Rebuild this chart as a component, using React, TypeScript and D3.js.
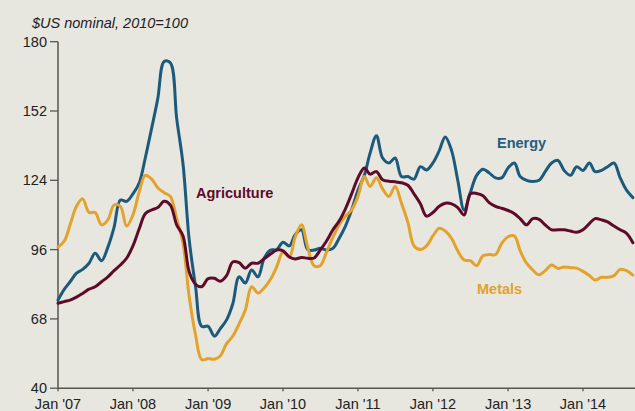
import React from "react";
import * as d3 from "d3";

const START_YEAR = 2007;
const yTicks = [40, 68, 96, 124, 152, 180];
const xTickYears = [2007, 2008, 2009, 2010, 2011, 2012, 2013, 2014];
const xTickLabels = ["Jan '07", "Jan '08", "Jan '09", "Jan '10", "Jan '11", "Jan '12", "Jan '13", "Jan '14"];

// monthly values from Jan 2007
const energy = [
  75.6, 80, 83, 86.5, 88, 90.5, 94.5, 91.5, 97, 105, 116, 115.5,
  118.5, 123, 133, 145, 157, 172, 171.5, 149, 130.5, 100, 81, 65,
  65, 61, 64, 67.6, 74, 85, 82.5, 87.8, 85, 92.5, 95.8, 96,
  99, 97.5, 102, 104, 96, 95.8, 96.5, 95.8, 96.5, 100.5, 105.5, 112,
  120, 126, 135, 142, 133, 131, 133, 125.5, 125.5, 124.5, 129.5, 128.2,
  131, 136, 141.5, 136, 124, 112, 119, 126, 128.5, 127, 125, 125,
  129, 131, 125.5, 124, 123.5, 124, 127.5, 131, 132, 128, 126, 129.5,
  128, 131, 127.5, 128, 129.5, 131, 125, 120, 117,
];
const agriculture = [
  74.3, 75, 75.6, 76.8, 78.3, 80, 81, 83, 85, 87.5, 89.8, 92.5,
  97.5, 104.5, 110.5, 112, 113, 115.5, 114, 106, 101.5, 87, 82, 81,
  84.3, 84.4, 83.2, 85.5, 91, 90.7, 88.5, 90.5, 90.5, 92.3, 94.2, 95.8,
  95.5, 93, 92.2, 92.8, 92.5, 92.6, 95.8, 99.5, 104, 107.5, 112.5, 118.5,
  125, 129, 126.5, 127.5, 124.2, 123.6, 123.4, 123, 122, 118.5, 114.5, 109.5,
  111, 113.5, 114.7, 114.5, 113, 110, 118.5, 118.7, 117.8, 115, 113.5, 112.7,
  111.8, 110.5, 108.5, 106, 108.5, 108.2, 106, 104, 104, 104, 103.5, 103,
  104, 106.5, 108.5, 108, 107.2, 105.5, 104, 102.6, 98.8,
];
const metals = [
  97, 99.5, 106, 113.5, 116.5, 111, 111, 106, 108, 114, 113.5, 105.5,
  110, 119.5, 126, 124.5, 121, 119, 117.5, 108.5, 98.5, 77, 61.5, 51.5,
  52, 51.7, 53, 58, 61, 66, 71.5, 81, 78.5, 80.5, 84, 89,
  95, 93, 101, 106, 97, 89.5, 89.5, 95, 101, 106, 109.5, 112,
  117.5, 125.5, 121.5, 125, 120.5, 117.5, 121.5, 114.7, 107, 97.5, 96, 97.5,
  101.5, 104.6, 103.5, 100.5, 95.5, 91.8, 91.5, 89.5, 93.5, 94, 94, 98.5,
  101.2, 101.5, 95.5, 90.5, 87.8, 85.8, 87.5, 89.8, 88.4, 89, 88.7, 88.5,
  87.2, 85.5, 83.7, 84.8, 84.8, 85.5, 88, 87.5, 85.7,
];

const seriesNames = ["Energy", "Metals", "Agriculture"];
const seriesColors = ["#1c5a7b", "#e2a22c", "#5e0b2a"];
const seriesData = [energy, metals, agriculture];

export default function App() {
  const W = 635;
  const H = 411;
  const x = d3
    .scaleTime()
    .domain([new Date(2007, 0, 1), new Date(2014, 0, 1)])
    .range([58, 583]);
  const y = d3.scaleLinear().domain([40, 180]).range([388.2, 41.7]);

  const dateOf = (i: number) => new Date(START_YEAR, i, 1);
  const line = d3
    .line<number>()
    .x((_, i) => x(dateOf(i)))
    .y((d) => y(d))
    .curve(d3.curveCatmullRom.alpha(0.5));

  const font = "'Liberation Sans', Arial, sans-serif";
  const axisColor = "#555";
  const fs = 14.5;

  return (
    <div style={{ position: "fixed", left: 0, top: 0, width: W, height: H }}>
      <svg width={W} height={H} style={{ display: "block", background: "#e7e7e0" }}>
        <rect x={0} y={0} width={W} height={H} fill="#e7e7e0" />
        <text x={32} y={28} fontFamily={font} fontSize={fs} fontStyle="italic" fill="#222">
          $US nominal, 2010=100
        </text>
        {/* y axis */}
        <line x1={58} x2={58} y1={y(180)} y2={y(40)} stroke={axisColor} strokeWidth={1.5} />
        {yTicks.map((t) => (
          <g key={t}>
            <line x1={50} x2={58} y1={y(t)} y2={y(t)} stroke={axisColor} strokeWidth={1.3} />
            <text
              x={47}
              y={y(t)}
              dy="0.35em"
              textAnchor="end"
              fontFamily={font}
              fontSize={fs}
              fill="#222"
            >
              {t}
            </text>
          </g>
        ))}
        {/* x axis */}
        <line x1={58} x2={W} y1={y(40)} y2={y(40)} stroke={axisColor} strokeWidth={1.5} />
        {xTickYears.map((yr, i) => (
          <g key={yr}>
            <line
              x1={x(new Date(yr, 0, 1))}
              x2={x(new Date(yr, 0, 1))}
              y1={y(40)}
              y2={y(40) + 3}
              stroke={axisColor}
              strokeWidth={1.3}
            />
            <text
              x={x(new Date(yr, 0, 1))}
              y={409}
              textAnchor="middle"
              fontFamily={font}
              fontSize={fs}
              fill="#222"
            >
              {xTickLabels[i]}
            </text>
          </g>
        ))}
        {/* lines */}
        {seriesData.map((d, i) => (
          <path
            key={seriesNames[i]}
            d={line(d) || ""}
            fill="none"
            stroke={seriesColors[i]}
            strokeWidth={3}
            strokeLinejoin="round"
            strokeLinecap="round"
          />
        ))}
        {/* labels */}
        <text x={497} y={148} fontFamily={font} fontSize={fs} fontWeight="bold" fill="#245e80">
          Energy
        </text>
        <text x={196} y={198} fontFamily={font} fontSize={fs} fontWeight="bold" fill="#5e0b2a">
          Agriculture
        </text>
        <text x={477} y={294} fontFamily={font} fontSize={fs} fontWeight="bold" fill="#e2a22c">
          Metals
        </text>
      </svg>
    </div>
  );
}
